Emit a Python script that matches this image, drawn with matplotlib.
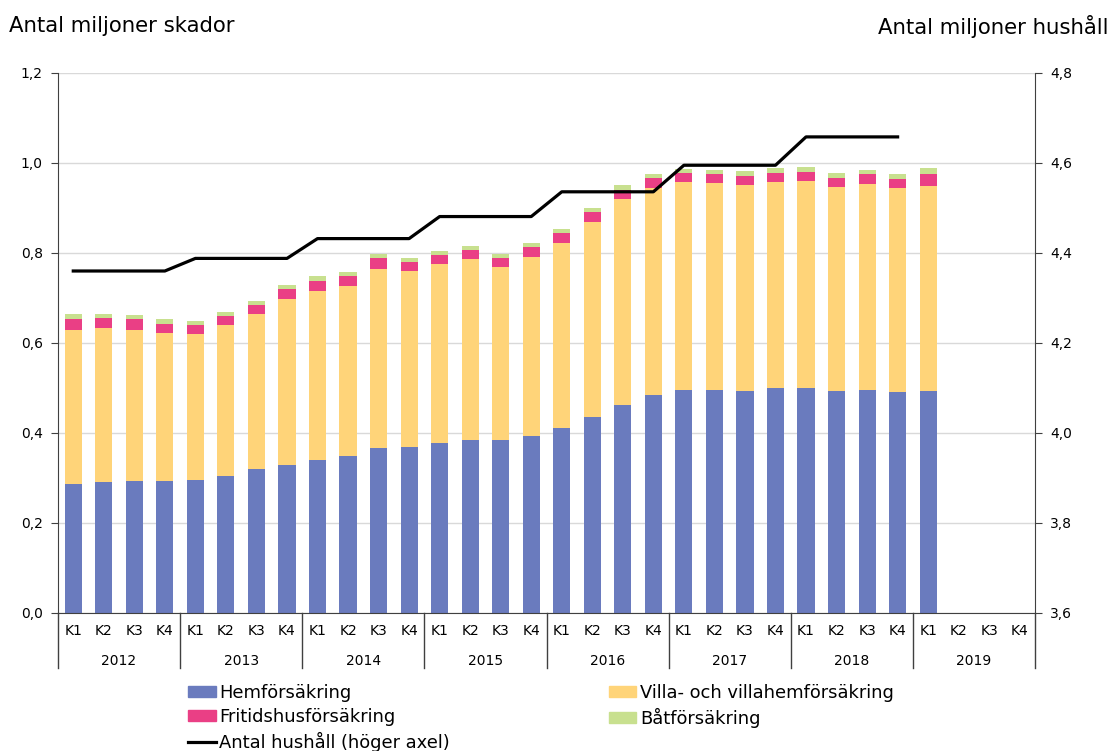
import numpy as np
import matplotlib
matplotlib.use('Agg')
import matplotlib.pyplot as plt
from matplotlib.ticker import FuncFormatter, FixedLocator
from matplotlib.patches import Patch
from matplotlib.lines import Line2D
import matplotlib.transforms as mtransforms

plt.rcParams['font.family'] = ['DejaVu Sans']

years = ['2012', '2013', '2014', '2015', '2016', '2017', '2018', '2019']
quarters = ['K1', 'K2', 'K3', 'K4']

# Antal miljoner skador per kvartal (2012 K1 - 2019 K1)
hem = [0.286, 0.292, 0.294, 0.294, 0.296, 0.304, 0.319, 0.330, 0.341, 0.349,
       0.366, 0.370, 0.377, 0.385, 0.385, 0.393, 0.412, 0.435, 0.463, 0.484,
       0.495, 0.495, 0.494, 0.499, 0.499, 0.494, 0.496, 0.491, 0.493]
villa = [0.344, 0.341, 0.336, 0.329, 0.325, 0.337, 0.346, 0.368, 0.374, 0.377,
         0.398, 0.389, 0.398, 0.401, 0.385, 0.399, 0.411, 0.433, 0.456, 0.461,
         0.463, 0.461, 0.457, 0.459, 0.462, 0.453, 0.458, 0.454, 0.457]
fritid = [0.024, 0.023, 0.023, 0.020, 0.019, 0.020, 0.019, 0.022, 0.022, 0.022,
          0.026, 0.022, 0.020, 0.021, 0.020, 0.022, 0.021, 0.023, 0.022, 0.022,
          0.020, 0.020, 0.021, 0.020, 0.020, 0.020, 0.022, 0.020, 0.026]
bat = [0.010, 0.009, 0.009, 0.010, 0.010, 0.009, 0.009, 0.009, 0.012, 0.010,
       0.008, 0.008, 0.009, 0.009, 0.008, 0.008, 0.009, 0.010, 0.009, 0.009,
       0.009, 0.008, 0.010, 0.010, 0.009, 0.010, 0.008, 0.011, 0.014]

# Antal miljoner hushåll per år (2012 - 2018)
hushall_ar = [4.360, 4.388, 4.432, 4.481, 4.536, 4.595, 4.658]

labels = ['Hemförsäkring', 'Villa- och villahemförsäkring',
          'Fritidshusförsäkring', 'Båtförsäkring', 'Antal hushåll (höger axel)']
colors = ['#6A7BBE', '#FFD479', '#EA3F85', '#C8E08F']

n_cat = len(years) * len(quarters)
x = np.arange(len(hem))
series = [np.array(hem), np.array(villa), np.array(fritid), np.array(bat)]

fig = plt.figure(figsize=(11.16, 7.51), dpi=100)
ax = fig.add_axes([58 / 1116, 1 - 613 / 751, (1035 - 58) / 1116, 540 / 751])

bottom = np.zeros(len(hem))
for vals, col in zip(series, colors):
    ax.bar(x, vals, width=0.56, bottom=bottom, color=col, zorder=2)
    bottom += vals

ax.set_xlim(-0.5, n_cat - 0.5)
ax.set_ylim(0, 1.2)
ax.yaxis.set_major_locator(FixedLocator(np.arange(0, 1.21, 0.2)))
fmt = FuncFormatter(lambda v, p: f"{v:.1f}".replace('.', ','))
ax.yaxis.set_major_formatter(fmt)
ax.grid(axis='y', color='#d9d9d9', linewidth=1, zorder=0)
ax.set_axisbelow(True)
ax.tick_params(axis='y', labelsize=10, length=5, color='#404040', pad=6)
ax.spines['top'].set_visible(False)
ax.spines['right'].set_visible(False)
ax.spines['left'].set_color('#404040')
ax.spines['bottom'].set_color('#404040')

# kvartalsetiketter och år
ax.set_xticks(np.arange(n_cat))
ax.set_xticklabels(quarters * len(years), fontsize=10)
ax.tick_params(axis='x', length=0, pad=8)
trans = mtransforms.blended_transform_factory(ax.transData, ax.transAxes)
for k, yr in enumerate(years):
    ax.text(4 * k + 1.5, -0.088, yr, transform=trans, ha='center', va='center', fontsize=10)
for k in range(len(years) + 1):
    ax.plot([4 * k - 0.5, 4 * k - 0.5], [0, -0.102], transform=trans, color='#404040',
            linewidth=1, clip_on=False)

ax2 = ax.twinx()
hushall_q = np.repeat(hushall_ar, len(quarters))
ax2.plot(np.arange(len(hushall_q)), hushall_q, color='black', linewidth=2.3, zorder=3)
ax2.set_ylim(3.6, 4.8)
ax2.yaxis.set_major_locator(FixedLocator(np.arange(3.6, 4.81, 0.2)))
ax2.yaxis.set_major_formatter(fmt)
ax2.tick_params(axis='y', labelsize=10, length=5, color='#404040', pad=6)
for s in ['top', 'left', 'bottom']:
    ax2.spines[s].set_visible(False)
ax2.spines['right'].set_color('#404040')

fig.text(9 / 1116, 1 - 26 / 751, 'Antal miljoner skador', fontsize=15.3, ha='left', va='center')
fig.text(1108 / 1116, 1 - 26 / 751, 'Antal miljoner hushåll', fontsize=15.3, ha='right', va='center')

handles = [Patch(color=colors[0]), Patch(color=colors[2]),
           Line2D([], [], color='black', linewidth=2.3),
           Patch(color=colors[1]), Patch(color=colors[3])]
leg_labels = [labels[0], labels[2], labels[4], labels[1], labels[3]]
fig.legend(handles, leg_labels, ncol=2, loc='upper left',
           bbox_to_anchor=(188 / 1116, 1 - 684 / 751), frameon=False,
           fontsize=12.9, handlelength=1.55, handleheight=0.55, handletextpad=0.2,
           labelspacing=0.32, columnspacing=8.85, borderpad=0, borderaxespad=0)

fig.savefig('out.png', dpi=100)
plt.close(fig)
